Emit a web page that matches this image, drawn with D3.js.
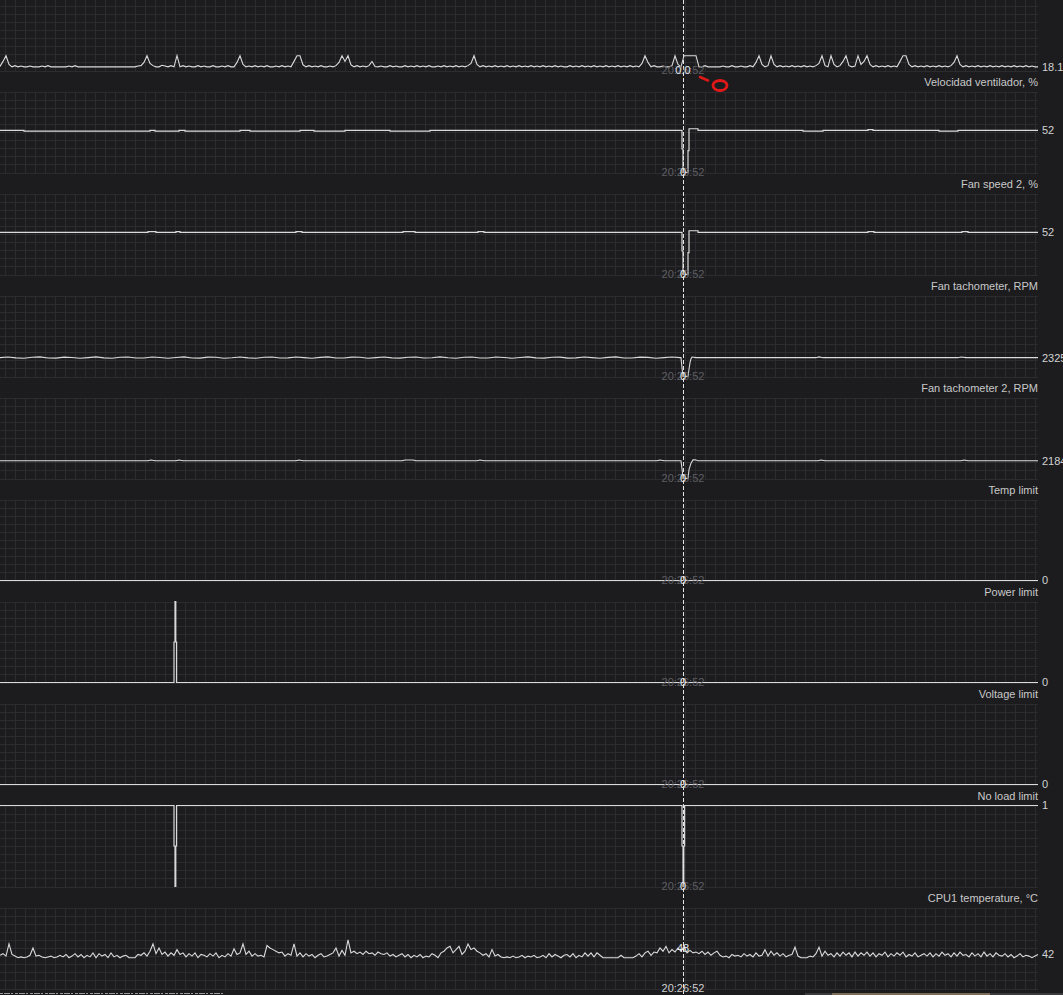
<!DOCTYPE html>
<html><head><meta charset="utf-8">
<script src="https://cdn.jsdelivr.net/npm/d3@7"></script>
<style>
html,body{margin:0;padding:0;background:#1c1c1f;overflow:hidden}
svg{display:block}
</style>
</head><body>
<svg id="chart" width="1063" height="995"></svg>
<script>
// ---------------- DATA ----------------
const timeDomain = [0, 1038];          // seconds of history shown
const cursorTime = 683;                 // cursor position (s)
const cursorClock = "20:26:52";
const sampleStep = 3;                   // seconds between samples of sampled series

const panelTitles = [null, "Velocidad ventilador, %", "Fan speed 2, %", "Fan tachometer, RPM",
  "Fan tachometer 2, RPM", "Temp limit", "Power limit", "Voltage limit", "No load limit", "CPU1 temperature, °C"];
const panelCurrent = ["18.1", "52", "52", "2325", "2184", "0", "0", "0", "1", "42"];
const panelCursorValue = ["0.0", "0", "0", "0", "0", "0", "0", "0", "0", "48"];
const panelRanges = [[0, 400], [0, 100], [0, 100], [0, 10000], [0, 10000], [0, 1], [0, 1], [0, 1], [0, 1], [0, 100]];

// top (partially visible) graph, sampled every 3 s
const topSeries = [
  20,45,73,30,18,24,18,22,18,18, 22,18,18,18,22,18,24,18,18,18,
  18,18,18,22,18,24,18,18,18,18, 18,18,18,18,18,18,18,18,18,18,
  18,18,18,18,18,18,22,24,40,73, 35,24,18,18,26,22,18,24,18,73,
  18,24,18,22,18,18,24,18,22,18, 18,24,18,18,22,18,24,18,18,40,
  73,30,18,22,18,24,18,22,18,24, 18,18,22,18,24,18,22,18,45,73,
  73,28,18,24,18,22,18,24,18,18, 22,18,24,40,73,45,73,28,18,24,
  18,22,18,24,45,20,18,22,18,18, 24,18,22,18,18,24,18,22,18,24,
  18,22,18,24,18,18,22,18,24,18, 22,18,24,18,22,18,24,35,73,30,
  18,24,18,22,18,24,18,22,18,24, 18,22,18,24,18,22,18,24,18,22,
  18,24,18,22,18,24,18,22,18,18, 24,18,22,18,24,18,22,18,24,18,
  22,18,24,18,22,18,24,18,22,18, 24,18,22,18,35,73,40,18,24,18,
  18,22,18,18,24,73,30,18,73,73, 73,73,73,18,18,24,18,18,18,18,
  18,22,18,18,24,18,18,22,18,18, 24,18,40,73,30,18,24,73,30,18,
  24,18,22,18,24,18,22,18,24,18, 22,18,24,35,73,24,18,73,30,18,
  24,45,73,24,18,22,73,30,45,73, 30,18,24,18,22,18,24,18,22,18,
  45,73,73,30,18,24,18,22,18,24, 18,22,18,24,18,22,18,24,40,73,
  30,18,24,18,22,18,24,18,22,18, 24,18,22,18,24,18,22,18,24,18,
  22,18,24,18,22,18,18
];

// fan speed, % : [time, value] change points (step)
const fanSpeed = [[0,52],[24,51],[150,52],[155,51],[179,52],[185,51],[240,52],[250,51],[300,52],[314,51],
  [345,52],[390,51],[430,52],[682,29],[683,0],[688,27],[689,54],[698,52],[803,51],[823,52],[868,53],[873,52],
  [939,51],[958,52],[1038,52]];
const fanSpeed2 = [[0,52],[148,53],[156,52],[176,53],[180,52],[296,53],[302,52],[403,53],[415,52],[478,53],
  [484,52],[682,29],[683,0],[688,27],[689,54],[698,52],[868,53],[874,52],[962,53],[968,52],[1038,52]];

// fan tachometer, RPM: wavy part sampled every 8 s from 0 to 680, then change points
const tach1Wave = [
  2330,2410,2300,2250,2380,2420,2290,2270,2390,2350, 2260,2330,2420,2300,2250,2370,2410,2280,2290,2400,
  2340,2260,2350,2420,2290,2270,2390,2380,2260,2320, 2410,2300,2260,2380,2400,2280,2300,2410,2330,2260,
  2360,2420,2290,2280,2390,2370,2250,2330,2410,2300, 2270,2380,2400,2280,2310,2420,2320,2260,2370,2410,
  2290,2290,2400,2350,2260,2340,2420,2300,2270,2380, 2390,2270,2300,2410,2330,2260,2360,2420,2290,2280,
  2390,2360,2260,2330,2400,2325
];
const tach1Tail = [[681,2325],[682,1100],[683,0],[688,0],[689,900],[690,1700],[691,2200],[692,2400],[696,2325],
  [816,2325],[819,2420],[823,2325],[958,2325],[961,2400],[966,2325],[1038,2325]];
const tach2 = [[0,2184],[148,2184],[151,2290],[155,2184],[176,2184],[179,2290],[183,2184],[296,2184],[299,2290],
  [303,2184],[402,2184],[405,2290],[413,2290],[416,2184],[477,2184],[480,2290],[484,2184],[657,2184],[660,2290],
  [664,2184],[681,2184],[682,1200],[683,0],[688,0],[689,1100],[691,1900],[693,2300],[695,2320],[698,2184],
  [818,2184],[821,2290],[825,2184],[961,2184],[964,2290],[968,2184],[1038,2184]];

// limits (step)
const tempLimit = [[0,0],[1038,0]];
const powerLimit = [[0,0],[174,0.5],[175,1],[175.8,0.5],[176.6,0],[1038,0]];
const voltageLimit = [[0,0],[1038,0]];
const noLoadLimit = [[0,1],[174,0.5],[175,0],[175.8,0.5],[176.6,1],[682,0.5],[683,0],[683.8,0.5],[684.6,1],[1038,1]];

// CPU1 temperature, °C sampled every 3 s
const cpuTemp = [
  41,43,40,55,42,40,38,39,38,39, 41,50,40,41,39,38,39,40,38,39,
  41,39,42,38,40,43,39,42,38,41, 39,44,38,43,40,42,38,44,39,41,
  38,40,41,38,38,38,42,41,44,40, 46,55,43,50,42,45,40,44,41,48,
  42,44,39,43,40,44,38,42,41,39, 43,40,44,38,41,39,43,40,49,42,
  44,55,42,46,40,43,40,41,39,53, 50,48,46,44,45,40,43,41,55,40,
  44,39,43,40,42,38,41,43,39,40, 42,44,50,40,47,41,60,44,46,43,
  45,42,46,43,44,41,45,43,42,44, 40,42,39,41,43,39,42,38,41,39,
  42,38,40,39,43,41,38,44,46,50, 52,44,48,52,42,46,55,48,50,46,
  44,41,43,39,48,40,42,39,38,39, 38,40,38,39,41,38,40,39,41,38,
  39,41,38,43,39,42,40,38,41,42, 39,43,38,41,39,44,40,44,39,44,
  41,38,38,38,38,38,38,41,38,38, 38,38,40,43,39,44,46,41,45,44,
  50,46,52,44,48,45,50,46,52,44, 47,44,45,43,46,42,45,41,44,46,
  41,39,40,38,42,40,41,39,43,40, 42,39,44,40,41,48,40,46,41,44,
  40,43,39,41,42,51,40,38,38,38, 40,39,43,51,40,46,41,43,39,44,
  40,45,41,44,39,45,40,44,41,45, 40,44,39,43,41,45,39,43,40,44,
  41,45,39,42,40,44,39,41,43,40, 44,39,43,40,45,41,43,39,44,40,
  45,41,42,39,44,40,43,39,45,40, 43,39,44,41,40,43,39,42,38,40,
  43,39,41,40,38,40,42
];

// ---------------- DRAW ----------------
const W = 1063, H = 995;
const plotRight = 1038;
const pitch = 102, top0 = -10.5, ph = 81;
const FONT = "'Liberation Sans', Arial, sans-serif";

const svg = d3.select("#chart");
svg.append("rect").attr("width", W).attr("height", H).attr("fill", "#1c1c1f");

const x = d3.scaleLinear().domain(timeDomain).range([0, plotRight]);

const sampled = arr => arr.map((v, i) => [i * sampleStep, v]);
const tach1 = tach1Wave.map((v, i) => [i * 8, v]).concat(tach1Tail);

const panels = [
  {data: sampled(topSeries), curve: d3.curveLinear},
  {data: fanSpeed, curve: d3.curveStepAfter},
  {data: fanSpeed2, curve: d3.curveStepAfter},
  {data: tach1, curve: d3.curveLinear},
  {data: tach2, curve: d3.curveLinear},
  {data: tempLimit, curve: d3.curveStepAfter},
  {data: powerLimit, curve: d3.curveStepAfter},
  {data: voltageLimit, curve: d3.curveStepAfter},
  {data: noLoadLimit, curve: d3.curveStepAfter},
  {data: sampled(cpuTemp), curve: d3.curveLinear}
];

const gridTimes = d3.range(5, plotRight, 10);

panels.forEach((p, k) => {
  const top = top0 + pitch * k, bottom = top + ph;
  const y = d3.scaleLinear().domain(panelRanges[k]).range([bottom, top]);
  const g = svg.append("g");
  // grid
  const hLines = d3.range(0, 11).map(j => Math.round(top + j * ph / 10) + 0.5);
  g.selectAll("line.h").data(hLines).join("line")
    .attr("x1", 0).attr("x2", plotRight).attr("y1", d => d).attr("y2", d => d)
    .attr("stroke", "#2c2c30").attr("stroke-width", 1);
  g.selectAll("line.v").data(gridTimes).join("line")
    .attr("x1", d => Math.round(x(d)) + 0.5).attr("x2", d => Math.round(x(d)) + 0.5)
    .attr("y1", Math.round(top) + 0.5).attr("y2", Math.round(bottom) + 0.5)
    .attr("stroke", "#2c2c30").attr("stroke-width", 1);
  // series
  const line = d3.line().x(d => x(d[0])).y(d => y(d[1])).curve(p.curve);
  g.append("path").datum(p.data).attr("d", line)
    .attr("fill", "none").attr("stroke", "#dadada")
    .attr("stroke-width", p.curve === d3.curveStepAfter ? 1.2 : 1.1)
    .attr("stroke-linejoin", "miter");
  p.y = y; p.top = top; p.bottom = bottom;
  // current value label
  const last = p.data[p.data.length - 1][1];
  svg.append("text").attr("x", plotRight + 4).attr("y", y(last)).attr("dy", "0.36em")
    .attr("fill", "#d2d2d2").attr("font-family", FONT).attr("font-size", 11)
    .text(panelCurrent[k]);
  // title (header above graph)
  if (panelTitles[k]) {
    svg.append("text").attr("x", plotRight).attr("y", top - 9.5).attr("dy", "0.36em")
      .attr("text-anchor", "end").attr("fill", "#c8c8c8")
      .attr("font-family", FONT).attr("font-size", 11).text(panelTitles[k]);
  }
});

// cursor line
svg.append("line").attr("x1", Math.round(x(cursorTime)) + 0.5).attr("x2", Math.round(x(cursorTime)) + 0.5)
  .attr("y1", 0).attr("y2", H).attr("stroke", "#e4e4e4").attr("stroke-width", 1)
  .attr("stroke-dasharray", "4,2");

// time labels and cursor values
panels.forEach((p, k) => {
  const last = k === panels.length - 1;
  svg.append("text").attr("x", x(cursorTime)).attr("y", p.bottom).attr("dy", "0.36em")
    .attr("text-anchor", "middle").attr("fill", last ? "#cfcfcf" : "#5e5e62")
    .attr("font-family", FONT).attr("font-size", 11).text(cursorClock);
  const vy = last ? p.bottom - 40.5 : p.bottom;
  svg.append("text").attr("x", x(cursorTime)).attr("y", vy).attr("dy", "0.36em")
    .attr("text-anchor", "middle").attr("fill", "#e2e8f0")
    .attr("font-family", FONT).attr("font-size", 11).text(panelCursorValue[k]);
});

// red hand-drawn annotation
svg.append("line").attr("x1", 700).attr("y1", 77).attr("x2", 708).attr("y2", 80.5)
  .attr("stroke", "#e01818").attr("stroke-width", 2.6).attr("stroke-linecap", "round");
svg.append("ellipse").attr("cx", 720).attr("cy", 85.5).attr("rx", 7).ry = null;
svg.select("ellipse").attr("ry", 5).attr("fill", "none").attr("stroke", "#e01818").attr("stroke-width", 2.8);

// bottom screen edge artifacts
svg.append("line").attr("x1", 0).attr("x2", 225).attr("y1", 993.5).attr("y2", 993.5)
  .attr("stroke", "#9a9a9a").attr("stroke-dasharray", "3,1,6,1,2,2");
svg.append("rect").attr("x", 805).attr("y", 993).attr("width", 258).attr("height", 2).attr("fill", "#3a3a3c");
svg.append("rect").attr("x", 832).attr("y", 993).attr("width", 158).attr("height", 2).attr("fill", "#7d6c55");
</script>
</body></html>
